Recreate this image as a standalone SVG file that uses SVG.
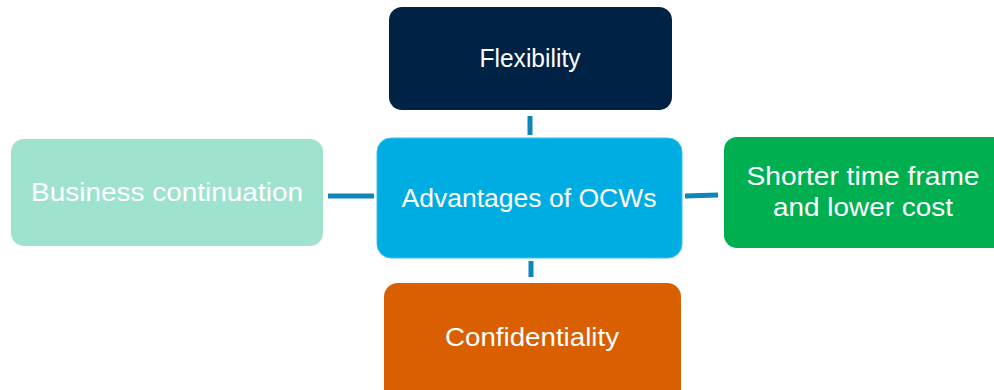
<svg xmlns="http://www.w3.org/2000/svg" width="994" height="390" viewBox="0 0 994 390">
<style>
.lbl{font-family:"Liberation Sans","Open Sans",Arial,sans-serif;font-size:25px;fill:#ffffff;text-anchor:middle}
.conn{stroke:#0E86BB;stroke-width:5;fill:none}
</style>
<rect width="994" height="390" fill="#ffffff"/>
<g id="connectors">
<line class="conn" x1="530" y1="116" x2="530" y2="135"/>
<line class="conn" x1="531" y1="261" x2="531" y2="277"/>
<line class="conn" x1="328" y1="196" x2="374" y2="196"/>
<line class="conn" x1="685" y1="196" x2="718" y2="195"/>
</g>
<g id="flexibility">
<rect x="389" y="7" width="283" height="103" rx="13" fill="#002244"/>
<text class="lbl" x="530" y="67" textLength="101" lengthAdjust="spacingAndGlyphs">Flexibility</text>
</g>
<g id="center">
<rect x="377" y="138" width="305" height="120" rx="14" fill="#00ADE3" stroke="#3FC3EC" stroke-width="1"/>
<text class="lbl" x="529" y="207" textLength="255" lengthAdjust="spacingAndGlyphs">Advantages of OCWs</text>
</g>
<g id="business">
<rect x="11" y="139" width="312" height="107" rx="13" fill="#A0E2D0"/>
<text class="lbl" x="167" y="201" textLength="272" lengthAdjust="spacingAndGlyphs">Business continuation</text>
</g>
<g id="shorter">
<rect x="724" y="137" width="290" height="111" rx="13" fill="#00B050"/>
<text class="lbl" x="863" y="185" textLength="233" lengthAdjust="spacingAndGlyphs">Shorter time frame</text>
<text class="lbl" x="863" y="216" textLength="180" lengthAdjust="spacingAndGlyphs">and lower cost</text>
</g>
<g id="confidentiality">
<rect x="384" y="283" width="297" height="120" rx="14" fill="#D95F00"/>
<text class="lbl" x="532" y="346" textLength="174" lengthAdjust="spacingAndGlyphs">Confidentiality</text>
</g>
</svg>
